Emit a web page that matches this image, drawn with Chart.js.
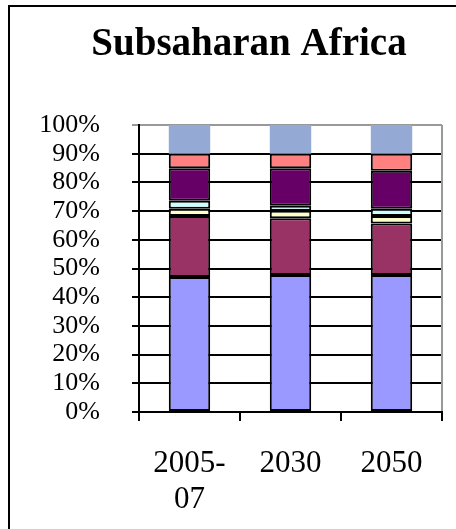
<!DOCTYPE html>
<html lang="en">
  <head>
    <meta charset="UTF-8" />
    <title>Subsaharan Africa</title>
    <script src="https://cdn.jsdelivr.net/npm/chart.js@4.4.0/dist/chart.umd.min.js"></script>
    <style>
      body { margin: 0; overflow: hidden; background: #fff; }
      #frame { position: absolute; left: 8px; top: 5px; width: 600px; height: 700px;
               border-top: 2px solid #000; border-left: 2px solid #000; }
      #box { position: absolute; left: 0; top: 0; width: 456px; height: 529px; }
    </style>
  </head>
  <body>
    <div id="frame"></div>
    <div id="box"><canvas id="myChart"></canvas></div>
    <script>
      const chartTitle = 'Subsaharan Africa';
      // years on the x axis
      const years = [['2005-', '07'], '2030', '2050'];
      // shares in percent, bottom segment first
      const s1 = [47.0, 47.7, 47.7];
      const s2 = [21.3, 19.8, 18.0];
      const s3 = [2.5, 2.6, 2.6];
      const s4 = [2.8, 1.8, 2.5];
      const s5 = [11.3, 13.0, 13.3];
      const s6 = [5.1, 5.1, 5.9];
      const s7 = [10.0, 10.0, 10.0];
      const yTicks = [0, 10, 20, 30, 40, 50, 60, 70, 80, 90, 100];

      const colors = ['#9999FF', '#993366', '#FFFFCC', '#CCFFFF', '#660066', '#FF8080', '#94A9D4'];
      const series = [s1, s2, s3, s4, s5, s6, s7];

      const datasets = series.map(function (d, i) {
        return {
          label: 'Series' + (i + 1),
          data: d,
          backgroundColor: colors[i],
          borderColor: '#000',
          borderWidth: i == 6 ? 0 : 2,
          borderSkipped: false,
          barPercentage: 0.41,
          categoryPercentage: 1
        };
      });

      // gray frame on the right of the plot + the title (centred on the excel chart box, not the canvas)
      const plotFrame = {
        id: 'plotFrame',
        afterDraw(chart) {
          const a = chart.chartArea, c = chart.ctx;
          c.save();
          c.strokeStyle = '#999';
          c.lineWidth = 2;
          c.beginPath();
          c.moveTo(a.right, a.top);
          c.lineTo(a.right, a.bottom - 1);
          c.stroke();
          c.fillStyle = '#000';
          c.font = 'bold 39px "Liberation Serif"';
          c.textAlign = 'center';
          c.textBaseline = 'alphabetic';
          c.fillText(chartTitle, chart.width / 2 + 21, 55);
          c.restore();
        }
      };

      const ctx = document.getElementById('myChart').getContext('2d');
      new Chart(ctx, {
        type: 'bar',
        data: { labels: years, datasets: datasets },
        plugins: [plotFrame],
        options: {
          responsive: true,
          maintainAspectRatio: false,
          animation: false,
          layout: { padding: { left: 20, right: 14, top: 125, bottom: 0 } },
          plugins: {
            legend: { display: false },
            tooltip: { enabled: false },
            title: { display: false }
          },
          scales: {
            x: {
              stacked: true,
              afterFit: function (axis) { axis.height = 117; },
              grid: { drawOnChartArea: false, color: '#000', lineWidth: 2, tickLength: 9, offset: true },
              border: { color: '#000', width: 2 },
              ticks: {
                color: '#000', padding: 25, maxRotation: 0,
                font: { family: 'Liberation Serif', size: 31, lineHeight: 1.15 }
              }
            },
            y: {
              stacked: true,
              min: 0,
              max: 100,
              afterFit: function (axis) { axis.width = 119; },
              afterBuildTicks: function (axis) { axis.ticks = yTicks.map(v => ({ value: v })); },
              grid: {
                color: function (c) { return c.tick && c.tick.value == 100 ? '#999' : '#000'; },
                lineWidth: 2,
                tickLength: 7
              },
              border: { color: '#000', width: 2 },
              ticks: {
                color: '#000', padding: 32, autoSkip: false,
                font: { family: 'Liberation Serif', size: 26 },
                callback: function (v) { return v + '%'; }
              }
            }
          }
        }
      });
    </script>
  </body>
</html>
